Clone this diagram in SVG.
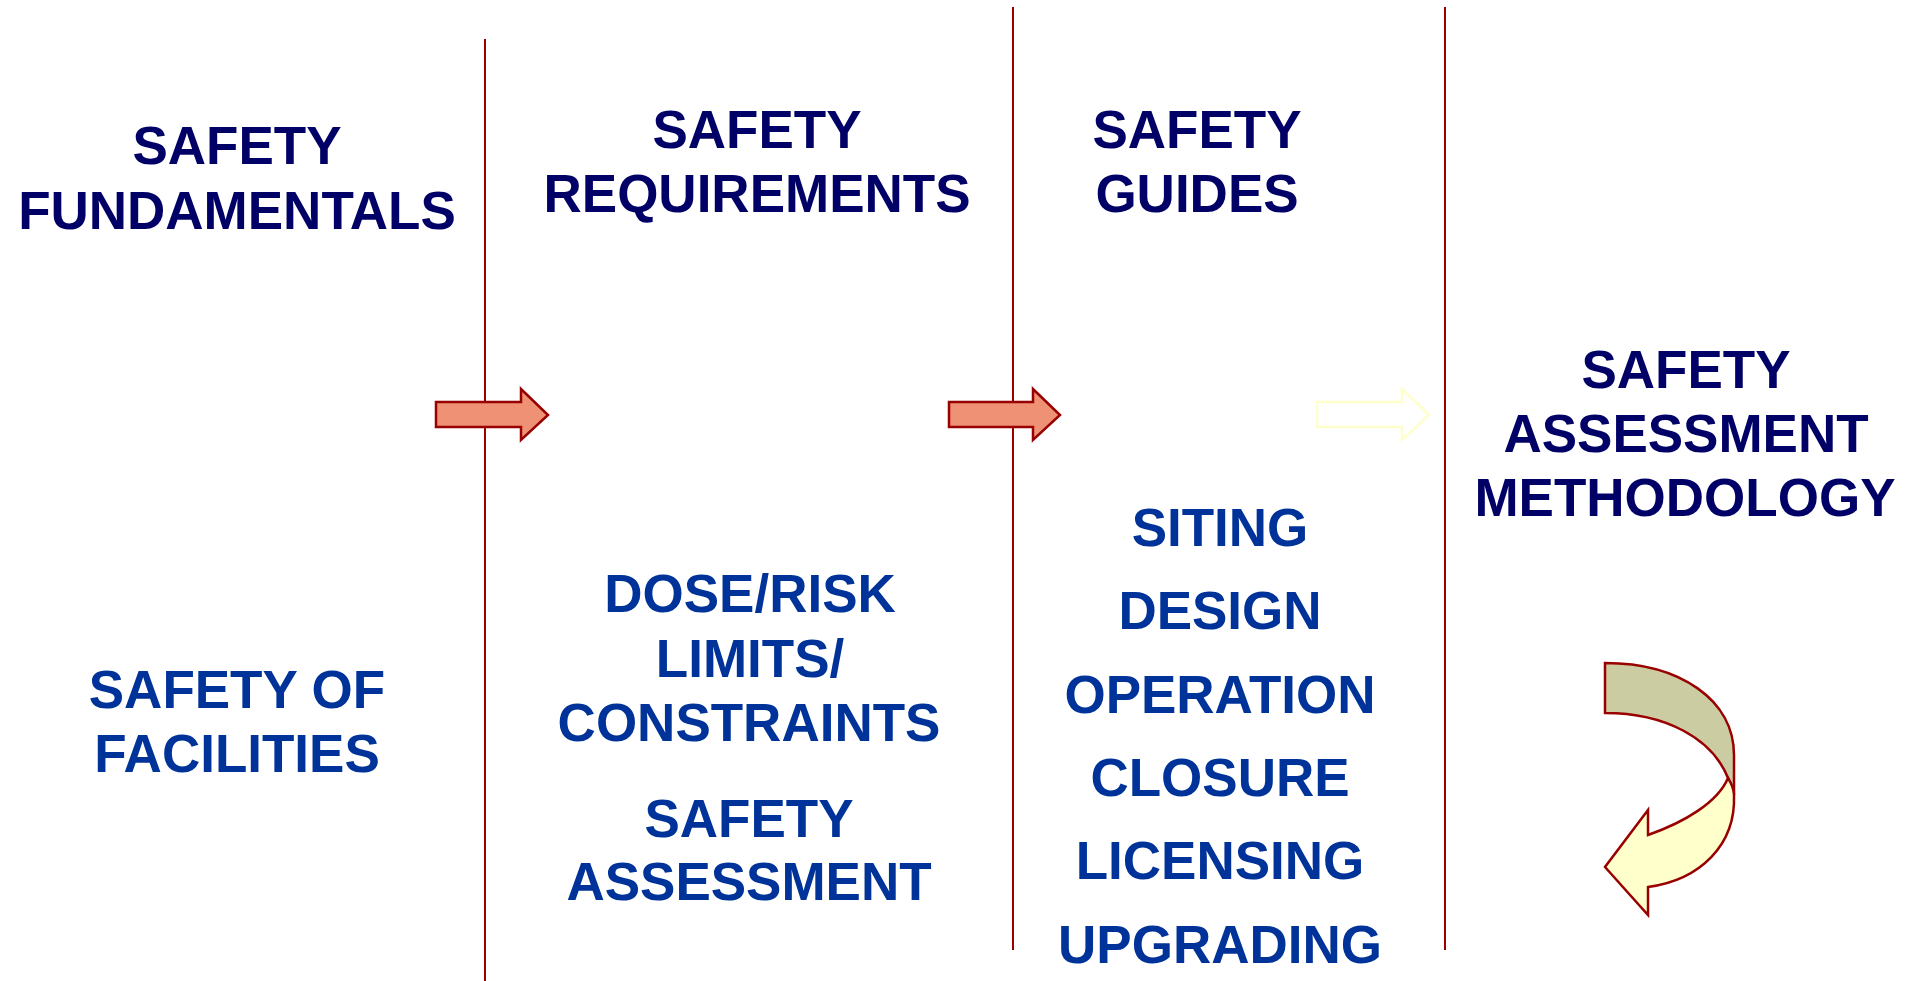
<svg xmlns="http://www.w3.org/2000/svg" width="1915" height="981" viewBox="0 0 1915 981">
<style>
text{font-family:"Liberation Sans",Arial,sans-serif;font-weight:bold;font-size:53px;text-anchor:middle}
.h{fill:#000066}
.b{fill:#003399}
.sep{stroke:#990000;stroke-width:2;fill:none}
.arr{fill:#EE9175;stroke:#990000;stroke-width:2.5;stroke-linejoin:miter}
.ghost{fill:none;stroke:#FFFFCC;stroke-width:2.5}
.cv{stroke:#990000;stroke-width:2.5;stroke-linejoin:miter}
</style>
<rect width="1915" height="981" fill="#ffffff"/>
<g id="separators">
<line class="sep" x1="485" y1="39" x2="485" y2="981"/>
<line class="sep" x1="1013" y1="7" x2="1013" y2="950"/>
<line class="sep" x1="1445" y1="7" x2="1445" y2="950"/>
</g>
<g id="connectors">
<path class="arr" d="M436,402 L521,402 L521,389 L548,415 L521,440 L521,427 L436,427 Z"/>
<path class="arr" d="M949,402 L1033,402 L1033,389 L1060,415 L1033,440 L1033,427 L949,427 Z"/>
<path class="ghost" d="M1317,402 L1402,402 L1402,389 L1429,415 L1402,440 L1402,427 L1317,427 Z"/>
</g>
<g id="fundamentals">
<text class="h" x="237" y="164">SAFETY</text>
<text class="h" x="237" y="229">FUNDAMENTALS</text>
<text class="b" x="237" y="708">SAFETY OF</text>
<text class="b" x="237" y="772">FACILITIES</text>
</g>
<g id="requirements">
<text class="h" x="757" y="148">SAFETY</text>
<text class="h" x="757" y="212">REQUIREMENTS</text>
<text class="b" x="750" y="612">DOSE/RISK</text>
<text class="b" x="750" y="677">LIMITS/</text>
<text class="b" x="749" y="741">CONSTRAINTS</text>
<text class="b" x="749" y="837">SAFETY</text>
<text class="b" x="749" y="900">ASSESSMENT</text>
</g>
<g id="guides">
<text class="h" x="1197" y="148">SAFETY</text>
<text class="h" x="1197" y="212">GUIDES</text>
<text class="b" x="1220" y="546">SITING</text>
<text class="b" x="1220" y="629">DESIGN</text>
<text class="b" x="1220" y="713">OPERATION</text>
<text class="b" x="1220" y="796">CLOSURE</text>
<text class="b" x="1220" y="879">LICENSING</text>
<text class="b" x="1220" y="963">UPGRADING</text>
</g>
<g id="methodology">
<text class="h" x="1686" y="388">SAFETY</text>
<text class="h" x="1686" y="452">ASSESSMENT</text>
<text class="h" x="1685" y="516">METHODOLOGY</text>
</g>
<g id="curved-arrow">
<path class="cv" fill="#CCCCA3" d="M1605,663 C1680,663 1734,700 1734,755 L1734,795 L1728,778 C1712,738 1665,713 1605,713 Z"/>
<path class="cv" fill="#FFFFCC" d="M1728,778 C1733,786 1734,790 1734,795 C1736,845 1700,880 1648,887 L1648,915 L1605,867 L1648,810 L1648,835 C1685,822 1718,802 1728,778 Z"/>
</g>
</svg>
